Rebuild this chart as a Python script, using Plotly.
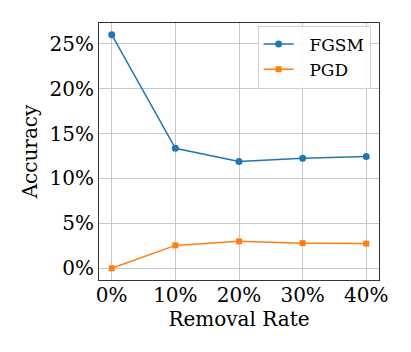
import plotly.graph_objects as go

removal_rate = [0, 10, 20, 30, 40]
fgsm_acc = [26.0, 13.35, 11.9, 12.25, 12.45]
pgd_acc = [0.0, 2.55, 3.0, 2.8, 2.75]
x_ticks = [0, 10, 20, 30, 40]
y_ticks = [0, 5, 10, 15, 20, 25]

fig = go.Figure()

# leading nbsp pushes legend text away from the line sample, like matplotlib
fig.add_trace(go.Scatter(
    x=removal_rate, y=fgsm_acc, name="\u00a0\u00a0FGSM",
    mode="lines+markers",
    line=dict(color="#1f77b4", width=1.5),
    marker=dict(symbol="circle", size=7, color="#1f77b4"),
))
fig.add_trace(go.Scatter(
    x=removal_rate, y=pgd_acc, name="\u00a0\u00a0PGD",
    mode="lines+markers",
    line=dict(color="#ff7f0e", width=1.5),
    marker=dict(symbol="square", size=6, color="#ff7f0e"),
))

font_family = "DejaVu Serif"

fig.update_xaxes(
    range=[-2, 42],
    tickvals=x_ticks,
    ticktext=[f"{v}%" for v in x_ticks],
    showgrid=True, gridcolor="#c8c8c8", gridwidth=1,
    showline=True, linecolor="#333333", linewidth=1, mirror=True,
    ticks="", ticklabelstandoff=-3,
    zeroline=False, automargin=False,
    tickfont=dict(size=20, family=font_family, color="black"),
    title=dict(text="Removal Rate", font=dict(size=20, family=font_family, color="black"), standoff=0),
)
fig.update_yaxes(
    range=[-1.3, 27.3],
    tickvals=y_ticks,
    ticktext=[f"{v}%" for v in y_ticks],
    showgrid=True, gridcolor="#c8c8c8", gridwidth=1,
    showline=True, linecolor="#333333", linewidth=1, mirror=True,
    ticks="",
    zeroline=False, automargin=False,
    tickfont=dict(size=20, family=font_family, color="black"),
    title=dict(text="Accuracy", font=dict(size=20, family=font_family, color="black"), standoff=6),
)

# page body adds an 8px margin, so the figure is trimmed to fit the window
fig.update_layout(
    width=403, height=344,
    margin=dict(l=91, r=32, t=15, b=72),
    font=dict(family=font_family, color="black"),
    plot_bgcolor="white", paper_bgcolor="white",
    showlegend=True,
    legend=dict(
        x=0.97, y=0.99, xanchor="right", yanchor="top",
        bgcolor="rgba(255,255,255,0.85)", bordercolor="#d0d0d0", borderwidth=1,
        font=dict(size=17, family=font_family, color="black"),
        tracegroupgap=0, itemwidth=30,
    ),
)

fig.write_html("out.html")
